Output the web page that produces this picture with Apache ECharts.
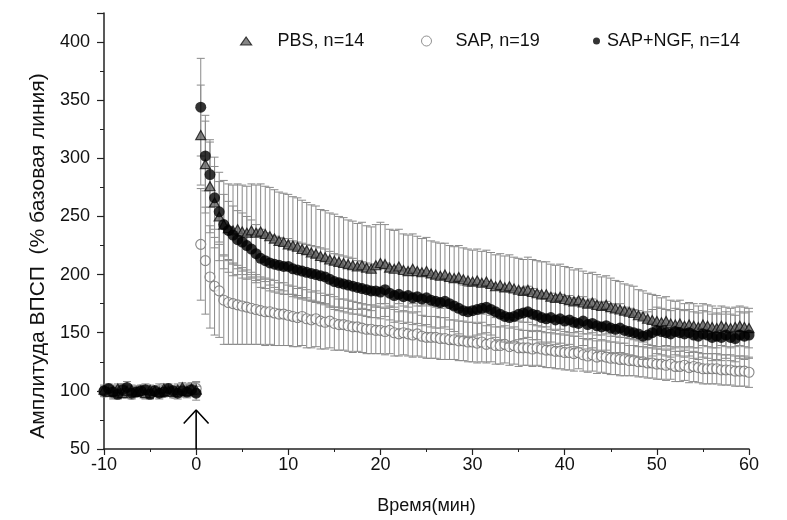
<!DOCTYPE html>
<html><head><meta charset="utf-8">
<script src="https://cdn.jsdelivr.net/npm/echarts@6/dist/echarts.min.js"></script>
<style>html,body{margin:0;padding:0;background:#fff}#c{width:787px;height:520px}</style>
</head><body><div id="c"></div>
<script>
// time points (min)
const baseTimes = [-10,-9.5,-9,-8.5,-8,-7.5,-7,-6.5,-6,-5.5,-5,-4.5,-4,-3.5,-3,-2.5,-2,-1.5,-1,-0.5,0];
const postTimes = [0.5,1,1.5,2,2.5,3,3.5,4,4.5,5,5.5,6,6.5,7,7.5,8,8.5,9,9.5,10,
10.5,11,11.5,12,12.5,13,13.5,14,14.5,15,15.5,16,16.5,17,17.5,18,18.5,19,19.5,20,
20.5,21,21.5,22,22.5,23,23.5,24,24.5,25,25.5,26,26.5,27,27.5,28,28.5,29,29.5,30,
30.5,31,31.5,32,32.5,33,33.5,34,34.5,35,35.5,36,36.5,37,37.5,38,38.5,39,39.5,40,
40.5,41,41.5,42,42.5,43,43.5,44,44.5,45,45.5,46,46.5,47,47.5,48,48.5,49,49.5,50,
50.5,51,51.5,52,52.5,53,53.5,54,54.5,55,55.5,56,56.5,57,57.5,58,58.5,59,59.5,60];

// baseline values (% baseline)
const pbsBase = [101,99,100,102,98,100,101,99,100,98,101,100,99,102,100,99,101,103,100,102,101];
const sapBase = [99,101,98,100,102,99,97,100,101,99,98,100,101,99,100,98,100,99,101,100,102];
const ngfBase = [100,102,99,97,101,103,98,99,100,101,97,100,98,99,102,100,98,100,99,101,98];
const baseErr = [4,4,5,4,4,5,4,4,4,5,4,4,5,4,4,4,5,4,5,5,6];

// post-stimulation values
const pbsPost = [320,295,276,262,250,243,240,238,239,237,
236,238,236,237,235,233,231,229,228,226,
225,224,222,221,219,218,216,215,213,212,
211,210,209,208,207,208,206,205,208,210,
209,206,205,207,204,203,205,203,202,203,
201,200,199,200,198,197,198,196,195,194,
195,193,194,192,190,191,189,190,188,187,
186,187,185,184,183,183,181,180,181,179,
178,177,178,176,175,176,174,173,174,172,
171,170,169,168,167,165,164,162,161,160,
159,160,158,157,158,156,157,156,155,157,
156,155,154,156,155,154,155,156,155,154];
const ngfPost = [344,302,286,266,254,243,238,234,230,228,
225,222,218,214,212,210,209,208,207,207,
205,204,203,202,201,200,199,198,196,194,
193,192,191,190,189,188,187,186,186,185,
187,184,182,183,181,182,180,181,179,180,
178,177,176,177,175,173,171,169,168,169,
170,171,172,170,168,166,164,163,164,166,
167,168,166,165,163,162,163,161,162,160,
161,159,158,160,157,158,156,155,156,154,
153,154,152,151,150,149,147,148,150,152,
151,150,149,151,150,149,150,148,147,149,
148,146,147,146,148,146,145,148,147,148];
const sapPost = [226,212,198,190,186,178,176,175,174,173,
172,171,170,169,168,168,167,166,166,165,
164,163,164,162,161,162,160,159,160,158,
157,157,156,155,155,154,153,153,152,152,
151,152,150,149,150,149,148,149,147,146,
146,146,145,145,144,144,143,143,142,142,
141,142,140,141,139,139,140,138,139,137,
137,137,136,137,136,135,135,134,134,133,
133,132,133,131,130,131,129,130,129,128,
128,127,127,126,126,125,125,124,124,123,
123,122,123,121,121,122,120,121,120,119,
119,119,119,118,118,118,117,117,117,116];

// SEM
const pbsErr = [43,42,40,39,38,38,38,39,39,40,
40,40,41,41,41,42,42,42,42,43,
42,42,42,41,41,41,40,40,40,40,
39,39,38,38,37,37,36,36,35,35,
34,33,33,32,31,31,30,30,29,29,
28,28,28,27,27,27,27,27,27,27,
27,27,27,27,27,27,27,27,27,27,
27,28,28,28,28,28,28,28,28,28,
28,27,27,27,26,26,26,25,25,25,
24,24,23,23,23,22,22,22,22,22,
21,21,20,20,20,19,19,19,18,18,
18,18,17,17,17,17,17,17,17,17];
const ngfErr = [42,30,28,27,26,26,25,25,25,25,
25,25,25,25,24,24,24,24,24,24,
24,24,24,24,24,24,24,24,24,24,
24,24,24,24,23,23,23,23,23,23,
23,23,23,23,23,23,23,23,23,23,
23,23,22,22,22,22,22,22,22,22,
22,22,22,22,22,22,22,22,22,22,
22,22,22,21,21,21,21,21,21,21,
21,21,21,21,21,21,21,21,21,21,
21,21,20,20,20,20,20,20,20,20,
20,20,20,20,20,20,20,20,20,20,
20,20,20,20,20,20,20,20,20,20];
const sapErr = [48,46,44,42,40,38,36,35,34,33,
32,31,30,29,29,28,28,27,27,26,
26,25,25,25,24,24,24,23,23,23,
22,22,22,22,21,21,21,21,20,20,
20,20,20,19,19,19,19,19,18,18,
18,18,18,18,17,17,17,17,17,17,
17,17,16,16,16,16,16,16,16,16,
15,15,15,15,15,15,15,15,15,15,
15,15,14,14,14,14,14,14,14,14,
14,14,14,13,13,13,13,13,13,13,
13,13,13,13,13,13,13,13,13,13,
13,13,13,13,13,13,13,13,13,13];

const names = ['PBS, n=14', 'SAP, n=19', 'SAP+NGF, n=14'];
const xTicks = {min: -10, max: 60, interval: 10};
const yTicks = {min: 50, max: 425, interval: 50};
const arrowShaft = [[0, 50], [0, 83.5]];
const arrowHead = [[-1.35, 72], [0, 83.5], [1.35, 72]];

function build(base, post, err) {
  const out = [];
  baseTimes.forEach((t, i) => out.push([t, base[i], baseErr[i]]));
  postTimes.forEach((t, i) => out.push([t, post[i], err[i]]));
  return out;
}
const pbsData = build(pbsBase, pbsPost, pbsErr);
const sapData = build(sapBase, sapPost, sapErr);
const ngfData = build(ngfBase, ngfPost, ngfErr);

function errSeries(data, z) {
  return {
    type: 'custom', data: data, z: z, silent: true,
    encode: {x: 0, y: 1},
    renderItem: function (params, api) {
      const x = api.value(0), y = api.value(1), e = api.value(2);
      const hi = api.coord([x, y + e]);
      const lo = api.coord([x, y - e]);
      const w = 4;
      const st = {stroke: '#8a8a8a', lineWidth: 1};
      return {type: 'group', children: [
        {type: 'line', shape: {x1: hi[0], y1: hi[1], x2: lo[0], y2: lo[1]}, style: st},
        {type: 'line', shape: {x1: hi[0] - w, y1: hi[1], x2: hi[0] + w, y2: hi[1]}, style: st},
        {type: 'line', shape: {x1: lo[0] - w, y1: lo[1], x2: lo[0] + w, y2: lo[1]}, style: st}
      ]};
    }
  };
}

const font = 'Liberation Sans, Arial, sans-serif';
const chart = echarts.init(document.getElementById('c'), null, {renderer: 'canvas'});
chart.setOption({
  animation: false,
  backgroundColor: '#fff',
  textStyle: {fontFamily: font},
  grid: {left: 104, right: 38, top: 13, bottom: 69},
  legend: [
    {left: 235, top: 27, itemWidth: 11, itemHeight: 8, selectedMode: false,
     data: [{name: names[0], icon: 'triangle', itemStyle: {color: '#666', borderColor: '#111', borderWidth: 1.2}}],
     textStyle: {fontSize: 18, color: '#111', fontFamily: font, padding: [0, 0, 0, 21]}},
    {left: 416, top: 27, itemWidth: 10, itemHeight: 10, selectedMode: false,
     data: [{name: names[1], icon: 'circle', itemStyle: {color: '#fff', borderColor: '#777', borderWidth: 1}}],
     textStyle: {fontSize: 18, color: '#111', fontFamily: font, padding: [0, 0, 0, 19]}},
    {left: 588, top: 27, itemWidth: 7, itemHeight: 7, selectedMode: false,
     data: [{name: names[2], icon: 'circle', itemStyle: {color: '#000'}}],
     textStyle: {fontSize: 18, color: '#111', fontFamily: font, padding: [0, 0, 0, 2]}}
  ],
  xAxis: {
    type: 'value', min: xTicks.min, max: xTicks.max, interval: xTicks.interval,
    name: 'Время(мин)', nameLocation: 'middle', nameGap: 48,
    nameTextStyle: {fontSize: 18, color: '#111', fontFamily: font},
    axisLine: {onZero: false, lineStyle: {color: '#222', width: 1.5}},
    axisTick: {length: 6, lineStyle: {color: '#222', width: 1.2}},
    minorTick: {show: true, splitNumber: 2, length: 3, lineStyle: {color: '#222', width: 1}},
    axisLabel: {fontSize: 18, color: '#111', margin: 7, fontFamily: font},
    splitLine: {show: false}
  },
  yAxis: {
    type: 'value', min: yTicks.min, max: yTicks.max, interval: yTicks.interval,
    name: 'Амплитуда ВПСП  (% базовая линия)', nameLocation: 'middle', nameGap: 52,
    nameTextStyle: {fontSize: 21, color: '#111', fontFamily: font, padding: [0, 50, 0, 0]},
    axisLine: {onZero: false, lineStyle: {color: '#222', width: 1.5}},
    axisTick: {length: 7, lineStyle: {color: '#222', width: 1.2}},
    minorTick: {show: true, splitNumber: 2, length: 4, lineStyle: {color: '#222', width: 1}},
    axisLabel: {fontSize: 18, color: '#111', margin: 14, fontFamily: font, showMaxLabel: false},
    splitLine: {show: false}
  },
  series: [
    {name: names[1], type: 'scatter', data: sapData, z: 2, symbol: 'circle', symbolSize: 10,
     itemStyle: {color: '#fff', borderColor: '#666', borderWidth: 1.1}, encode: {x: 0, y: 1}},
    errSeries(sapData, 3),
    errSeries(pbsData, 3),
    errSeries(ngfData, 3),
    {name: names[0], type: 'scatter', data: pbsData, z: 4, symbol: 'triangle', symbolSize: [10, 9],
     itemStyle: {color: '#666', borderColor: '#111', borderWidth: 1.2}, encode: {x: 0, y: 1}},
    {name: names[2], type: 'scatter', data: ngfData, z: 5, symbol: 'circle', symbolSize: 11,
     itemStyle: {color: '#000'}, encode: {x: 0, y: 1}},
    {type: 'line', data: arrowShaft, symbol: 'none', silent: true, z: 6,
     lineStyle: {color: '#000', width: 1.6}},
    {type: 'line', data: arrowHead, symbol: 'none', silent: true, z: 6,
     lineStyle: {color: '#000', width: 1.6}}
  ]
});
</script></body></html>
